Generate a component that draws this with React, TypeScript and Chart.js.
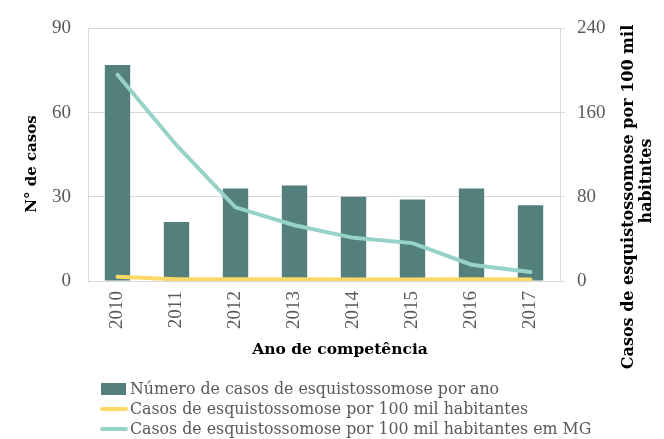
import React, { useEffect, useRef } from "react";
import { Chart, registerables } from "chart.js";

Chart.register(...registerables);

const years = ["2010", "2011", "2012", "2013", "2014", "2015", "2016", "2017"];
const casosPorAno = [77, 21, 33, 34, 30, 29, 33, 27];
const taxaMunicipio = [4, 1.6, 1.6, 1.6, 1.5, 1.5, 1.6, 1.4];
const taxaMG = [196, 129, 70, 53, 41, 36, 15.5, 8.6];

const seriesNames = [
  "Número de casos de esquistossomose por ano",
  "Casos de esquistossomose por 100 mil habitantes",
  "Casos de esquistossomose por 100 mil habitantes em MG",
];
const leftTitle = "N° de casos";
const bottomTitle = "Ano de competência";
const rightTitle = ["Casos de esquistossomose por 100 mil", "habitntes"];

const BAR = "#537f7d";
const YELLOW = "#ffd966";
const TEAL = "#97d2c8";
const GRID = "#d9d9d9";
const TICK = "#595959";
const FONT = "'Liberation Serif', serif";
const FONT2 = "'DejaVu Serif', serif";

const annotations = {
  id: "annotations",
  afterDraw(chart: any) {
    const ctx = chart.ctx;
    ctx.save();
    ctx.fillStyle = "#000";
    ctx.textAlign = "center";
    ctx.textBaseline = "alphabetic";
    ctx.font = `bold 15.5px ${FONT2}`;
    // bottom title
    ctx.fillText(bottomTitle, 340, 354);
    // left title
    ctx.save();
    ctx.translate(36, 164);
    ctx.rotate(-Math.PI / 2);
    ctx.font = `bold 15px ${FONT2}`;
    ctx.fillText(leftTitle, 0, 0);
    ctx.restore();
    // right title
    ctx.font = `bold 16px ${FONT2}`;
    ctx.save();
    ctx.translate(633, 197);
    ctx.rotate(-Math.PI / 2);
    ctx.fillText(rightTitle[0], 0, 0);
    ctx.restore();
    ctx.save();
    ctx.translate(651, 181);
    ctx.rotate(-Math.PI / 2);
    ctx.fillText(rightTitle[1], 0, 0);
    ctx.restore();

    // legend
    const rows = [389, 409, 429];
    ctx.font = `15.8px ${FONT2}`;
    ctx.textAlign = "left";
    ctx.textBaseline = "middle";
    rows.forEach((y, i) => {
      if (i === 0) {
        ctx.fillStyle = BAR;
        ctx.fillRect(101, y - 6, 25, 12);
      } else {
        ctx.strokeStyle = i === 1 ? YELLOW : TEAL;
        ctx.lineWidth = 4;
        ctx.lineCap = "round";
        ctx.beginPath();
        ctx.moveTo(102, y);
        ctx.lineTo(126, y);
        ctx.stroke();
      }
      ctx.fillStyle = TICK;
      ctx.fillText(seriesNames[i], 130, y + 1);
    });
    ctx.restore();
  },
};

export default function App() {
  const ref = useRef<HTMLCanvasElement>(null);
  useEffect(() => {
    if (!ref.current) return;
    const chart = new Chart(ref.current, {
      type: "bar",
      data: {
        labels: years,
        datasets: [
          {
            type: "line",
            label: seriesNames[1],
            data: taxaMunicipio,
            yAxisID: "y1",
            borderColor: YELLOW,
            backgroundColor: YELLOW,
            borderWidth: 4,
            pointRadius: 0,
            tension: 0,
            borderCapStyle: "round",
            order: 0,
          },
          {
            type: "line",
            label: seriesNames[2],
            data: taxaMG,
            yAxisID: "y1",
            borderColor: TEAL,
            backgroundColor: TEAL,
            borderWidth: 4,
            pointRadius: 0,
            tension: 0,
            borderCapStyle: "round",
            order: 0,
          },
          {
            type: "bar",
            label: seriesNames[0],
            data: casosPorAno,
            yAxisID: "y",
            backgroundColor: BAR,
            barPercentage: 0.43,
            categoryPercentage: 1,
            order: 1,
          },
        ],
      },
      plugins: [annotations],
      options: {
        animation: false,
        responsive: false,
        maintainAspectRatio: false,
        layout: { padding: { top: 22, left: 0, right: 0, bottom: 0 } },
        plugins: { legend: { display: false }, tooltip: { enabled: false } },
        scales: {
          x: {
            grid: { display: false, drawTicks: false },
            border: { display: true, color: GRID },
            ticks: {
              minRotation: 90,
              maxRotation: 90,
              padding: 10,
              color: TICK,
              font: { family: FONT, size: 19 },
            },
            afterFit: (s: any) => {
              s.height = 158;
            },
          },
          y: {
            position: "left",
            min: 0,
            max: 90,
            grid: { color: GRID, drawTicks: false, lineWidth: 1 },
            border: { display: true, color: GRID },
            ticks: {
              stepSize: 30,
              padding: 17,
              color: TICK,
              font: { family: FONT, size: 19 },
            },
            afterFit: (s: any) => {
              s.width = 88;
            },
          },
          y1: {
            position: "right",
            min: 0,
            max: 240,
            grid: { drawOnChartArea: false, color: GRID, tickLength: 5, drawTicks: true },
            border: { display: true, color: GRID },
            ticks: {
              stepSize: 80,
              padding: 12,
              color: TICK,
              font: { family: FONT, size: 19 },
            },
            afterFit: (s: any) => {
              s.width = 104;
            },
          },
        },
      },
    } as any);
    return () => chart.destroy();
  }, []);
  return (
    <div style={{ position: "fixed", left: 0, top: 0, width: 664, height: 439, background: "#fff" }}>
      <canvas ref={ref} width={664} height={439} style={{ width: 664, height: 439 }} />
    </div>
  );
}
